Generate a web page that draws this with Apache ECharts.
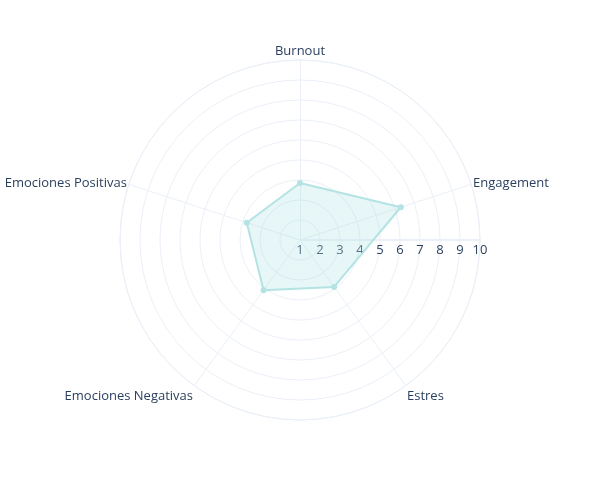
<!DOCTYPE html>
<html><head><meta charset="utf-8">
<script src="https://cdn.jsdelivr.net/npm/echarts@6/dist/echarts.min.js"></script>
<style>html,body{margin:0;padding:0;background:#fff}#c{width:600px;height:500px}</style>
</head><body><div id="c"></div>
<script>
const categories = ['Burnout', 'Engagement', 'Estres', 'Emociones Negativas', 'Emociones Positivas'];
const values = [3.85, 6.3, 3.9, 4.1, 3.8];
const radialMin = 1;
const radialMax = 10;

const gridColor = '#EBF0F8';
const textColor = '#2a3f5f';
const font = '"Open Sans", "Noto Sans", sans-serif';
const lineColor = '#b5e3e3';

// ECharts radar runs counter-clockwise; reverse the order after the first category to go clockwise
const order = [0].concat(categories.slice(1).map((_, i) => categories.length - 1 - i));
const radarCats = order.map(i => categories[i]);
const radarVals = order.map(i => values[i]);

// labels in the lower half sit a little lower (as in the reference)
function nameFormatter(name) {
  const i = radarCats.indexOf(name);
  const ang = (90 + 360 * i / radarCats.length) * Math.PI / 180;
  return Math.sin(ang) < -0.1 ? '{low|' + name + '}' : '{n|' + name + '}';
}

const chart = echarts.init(document.getElementById('c'), null, {renderer: 'canvas'});
chart.setOption({
  backgroundColor: '#fff',
  animation: false,
  polar: {center: [300, 240], radius: 180},
  angleAxis: {
    type: 'value', min: 0, max: 360, startAngle: 0,
    axisLine: {show: true, lineStyle: {color: gridColor, width: 1}},
    axisTick: {show: false}, axisLabel: {show: false}, splitLine: {show: false}
  },
  radiusAxis: {
    min: radialMin, max: radialMax, interval: 1, z: 1,
    axisLine: {show: true, lineStyle: {color: gridColor, width: 2}},
    axisTick: {show: false},
    axisLabel: {color: textColor, fontSize: 13, fontFamily: font, margin: -4, verticalAlign: 'top'},
    splitLine: {show: true, lineStyle: {color: gridColor, width: 1}}
  },
  radar: {
    center: [300, 240], radius: 180, startAngle: 90, shape: 'circle',
    indicator: radarCats.map(n => ({name: n, min: radialMin, max: radialMax})),
    nameGap: 2,
    axisName: {
      color: textColor, fontSize: 13, fontFamily: font,
      formatter: nameFormatter,
      rich: {
        n: {color: textColor, fontSize: 13, fontFamily: font},
        low: {color: textColor, fontSize: 13, fontFamily: font, padding: [18, 0, 0, 0]}
      }
    },
    axisLine: {show: true, lineStyle: {color: gridColor, width: 1}},
    splitLine: {show: false},
    splitArea: {show: false},
    axisTick: {show: false},
    axisLabel: {show: false}
  },
  series: [{
    type: 'radar',
    data: [{value: radarVals}],
    symbol: 'circle',
    symbolSize: 6,
    lineStyle: {color: lineColor, width: 2},
    itemStyle: {color: lineColor},
    areaStyle: {color: 'rgba(181,227,227,0.45)'}
  }]
});
</script></body></html>
